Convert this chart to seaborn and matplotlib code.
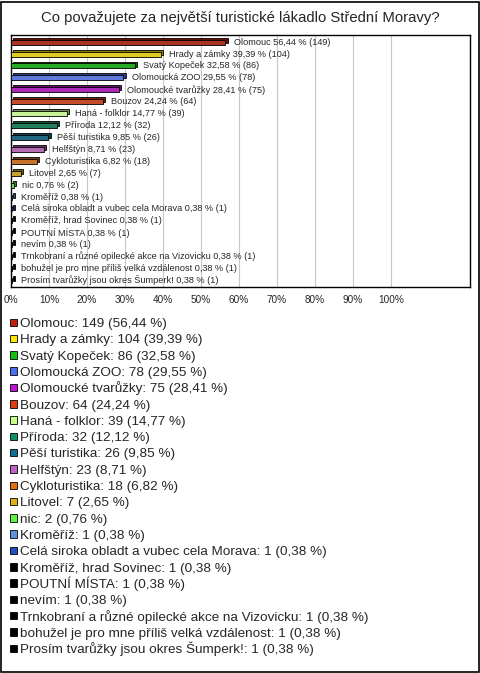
import numpy as np
import pandas as pd
import matplotlib
matplotlib.use('Agg')
import matplotlib.pyplot as plt
from matplotlib.patches import Rectangle
import seaborn as sns

# data
kategorie = [
    'Olomouc', 'Hrady a zámky', 'Svatý Kopeček', 'Olomoucká ZOO',
    'Olomoucké tvarůžky', 'Bouzov', 'Haná - folklor', 'Příroda',
    'Pěší turistika', 'Helfštýn', 'Cykloturistika', 'Litovel', 'nic',
    'Kroměříž', 'Celá siroka obladt a vubec cela Morava',
    'Kroměříž, hrad Sovinec', 'POUTNÍ MÍSTA', 'nevím',
    'Trnkobraní a různé opilecké akce na Vizovicku',
    'bohužel je pro mne příliš velká vzdálenost',
    'Prosím tvarůžky jsou okres Šumperk!',
]
pocty = [149, 104, 86, 78, 75, 64, 39, 32, 26, 23, 18, 7, 2, 1, 1, 1, 1, 1, 1, 1, 1]
procenta = [56.44, 39.39, 32.58, 29.55, 28.41, 24.24, 14.77, 12.12, 9.85, 8.71,
            6.82, 2.65, 0.76, 0.38, 0.38, 0.38, 0.38, 0.38, 0.38, 0.38, 0.38]
barvy = ['#c0200f', '#ffe600', '#10c010', '#4a6ef0', '#c010d0', '#e03c10',
         '#c8ff88', '#109060', '#107090', '#c060c0', '#e07010', '#e0b010',
         '#60f040', '#6090e0', '#2050c0', '#000000', '#000000', '#000000',
         '#000000', '#000000', '#000000']
x_ticks = [0, 10, 20, 30, 40, 50, 60, 70, 80, 90, 100]

sns.set_style('white')
plt.rcParams['font.family'] = ['Liberation Sans', 'DejaVu Sans']

df = pd.DataFrame({'kat': kategorie, 'proc': procenta, 'pocet': pocty})

W, H = 480, 673
fig = plt.figure(figsize=(W / 100, H / 100), dpi=100)
ax = fig.add_axes([11 / W, 1 - 287 / H, (470 - 11) / W, (287 - 35) / H])

def tmavsi(c, f=0.55):
    r, g, b = matplotlib.colors.to_rgb(c)
    return (r * f, g * f, b * f)

# 3D "hloubka" za sloupci
ypos = np.arange(len(kategorie))
ax.barh(ypos - 0.16, df['proc'], left=0.6, height=0.42,
        color=[tmavsi(c) for c in barvy], edgecolor='black', linewidth=0.6, zorder=2)

sns.barplot(data=df, y='kat', x='proc', hue='kat', palette=barvy, legend=False,
            orient='h', width=0.42, edgecolor='black', linewidth=0.6, ax=ax,
            zorder=3)

for i, (p, n) in enumerate(zip(procenta, pocty)):
    txt = f'{kategorie[i]} {p:.2f} % ({n})'.replace('.', ',')
    ax.text(p + 2.2, i, txt, va='center', ha='left', fontsize=6.6, zorder=4)

ax.set_xlim(0, 120.8)
ax.set_ylim(20.55, -0.6)
ax.set_xticks(x_ticks)
ax.set_xticklabels([f'{t}%' for t in x_ticks], fontsize=7.2)
ax.set_yticks([])
ax.set_xlabel('')
ax.set_ylabel('')
ax.tick_params(axis='x', length=0, pad=6)
ax.grid(axis='x', color='#c8c8c8', linewidth=0.8, zorder=0)
ax.set_axisbelow(True)
for s in ax.spines.values():
    s.set_color('black')
    s.set_linewidth(1.0)

fig.text(0.5, 1 - 18 / H, 'Co považujete za největší turistické lákadlo Střední Moravy?',
         ha='center', va='center', fontsize=10.7)

# legenda - pevne rozestupy radku
for i, (k, n, p, c) in enumerate(zip(kategorie, pocty, procenta, barvy)):
    yc = 322.5 + i * 16.3
    fig.patches.append(Rectangle((9.5 / W, 1 - (yc + 3.5) / H), 7.5 / W, 7.5 / H,
                                 transform=fig.transFigure, facecolor=c,
                                 edgecolor='black', linewidth=0.6))
    fig.text(20.5 / W, 1 - (yc + 4.6) / H, f'{k}: {n} ({p:.2f} %)'.replace('.', ','),
             ha='left', va='baseline', fontsize=9.7)

fig.patches.append(Rectangle((0.5 / W, 1.5 / H), (W - 2) / W, (H - 3) / H,
                             transform=fig.transFigure, fill=False,
                             edgecolor='black', linewidth=1.2))

fig.savefig('out.png', dpi=100)
